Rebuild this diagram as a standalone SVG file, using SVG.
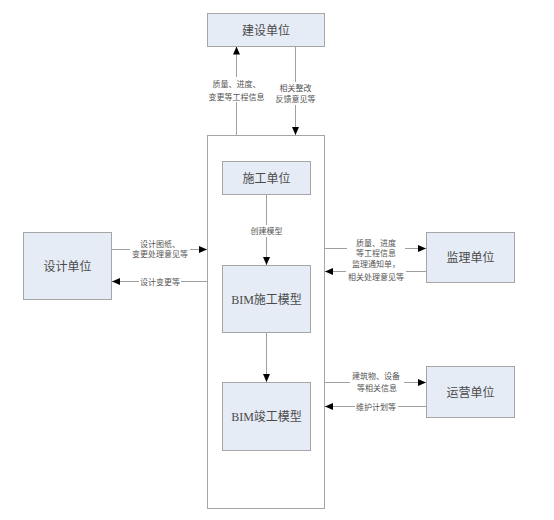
<svg xmlns="http://www.w3.org/2000/svg" width="554" height="520" viewBox="0 0 554 520">
<defs>
<marker id="ah" viewBox="0 0 8 8" refX="8" refY="4" markerWidth="8" markerHeight="8" markerUnits="userSpaceOnUse" orient="auto">
<path d="M0,0.5 L8,4 L0,7.5 Z" fill="#000"/>
</marker>
<style>
.box{fill:#e6ecf6;stroke:#a6a6a6;stroke-width:1}
.cont{fill:#fff;stroke:#a6a6a6;stroke-width:1}
.t{font-family:"Liberation Serif","Noto Sans CJK SC",serif;font-size:12px;fill:#4a4a4a;text-anchor:middle}
.s{font-family:"Liberation Serif","Noto Sans CJK SC",serif;font-size:8px;fill:#555;text-anchor:middle}
.ln{stroke:#a0a0a0;stroke-width:1;fill:none;marker-end:url(#ah)}
.bg{fill:#fff}
</style>
</defs>
<rect width="554" height="520" fill="#fff"/>
<g id="container"><rect class="cont" x="207.5" y="135.5" width="117" height="373"/></g>
<g id="connectors">
<line class="ln" x1="236.5" y1="135" x2="236.5" y2="46.5"/>
<line class="ln" x1="295.5" y1="46.5" x2="295.5" y2="135"/>
<line class="ln" x1="266.5" y1="194.5" x2="266.5" y2="265"/>
<line class="ln" x1="266.5" y1="332.5" x2="266.5" y2="382"/>
<line class="ln" x1="111.5" y1="249.5" x2="207" y2="249.5"/>
<line class="ln" x1="207.5" y1="281.5" x2="112" y2="281.5"/>
<line class="ln" x1="324.5" y1="248.5" x2="426" y2="248.5"/>
<line class="ln" x1="426" y1="271.5" x2="325" y2="271.5"/>
<line class="ln" x1="324.5" y1="382.5" x2="426" y2="382.5"/>
<line class="ln" x1="426" y1="406.5" x2="325" y2="406.5"/>
<rect class="bg" x="206" y="77" width="61" height="25"/>
<rect class="bg" x="273" y="82" width="45" height="23"/>
<rect class="bg" x="248" y="225" width="37" height="12"/>
<rect class="bg" x="130" y="239" width="60" height="21"/>
<rect class="bg" x="139" y="276" width="42" height="12"/>
<rect class="bg" x="347" y="237" width="58" height="22"/>
<rect class="bg" x="346" y="259" width="60" height="24"/>
<rect class="bg" x="350" y="370" width="54" height="24"/>
<rect class="bg" x="355" y="400" width="43" height="12"/>
<text class="s" x="236.5" y="86.5">质量、进度、</text>
<text class="s" x="236.5" y="99.7">变更等工程信息</text>
<text class="s" x="295.5" y="91">相关整改</text>
<text class="s" x="295.5" y="101.5">反馈意见等</text>
<text class="s" x="266.5" y="233.7">创建模型</text>
<text class="s" x="160" y="247">设计图纸、</text>
<text class="s" x="160" y="257.3">变更处理意见等</text>
<text class="s" x="160" y="285">设计变更等</text>
<text class="s" x="376" y="245.7">质量、进度</text>
<text class="s" x="376" y="256.3">等工程信息</text>
<text class="s" x="376" y="267">监理通知单，</text>
<text class="s" x="376" y="280.3">相关处理意见等</text>
<text class="s" x="376" y="379">建筑物、设备</text>
<text class="s" x="377" y="391.3">等相关信息</text>
<text class="s" x="376" y="409.5">维护计划等</text>
</g>
<g id="jianshe"><rect class="box" x="207.5" y="13.5" width="117" height="33"/><text class="t" x="266" y="34.5">建设单位</text></g>
<g id="shigong"><rect class="box" x="222.5" y="161.5" width="88" height="33"/><text class="t" x="266.5" y="182.5">施工单位</text></g>
<g id="bim-sg"><rect class="box" x="222.5" y="265.5" width="88" height="67"/><text class="t" x="266.5" y="303.5">BIM施工模型</text></g>
<g id="bim-jg"><rect class="box" x="222.5" y="382.5" width="88" height="68"/><text class="t" x="266.5" y="420.5">BIM竣工模型</text></g>
<g id="sheji"><rect class="box" x="23.5" y="232.5" width="88" height="67"/><text class="t" x="67.5" y="270.5">设计单位</text></g>
<g id="jianli"><rect class="box" x="426.5" y="232.5" width="88" height="50"/><text class="t" x="470.5" y="262">监理单位</text></g>
<g id="yunying"><rect class="box" x="426.5" y="366.5" width="88" height="51"/><text class="t" x="470.5" y="396.5">运营单位</text></g>
</svg>
